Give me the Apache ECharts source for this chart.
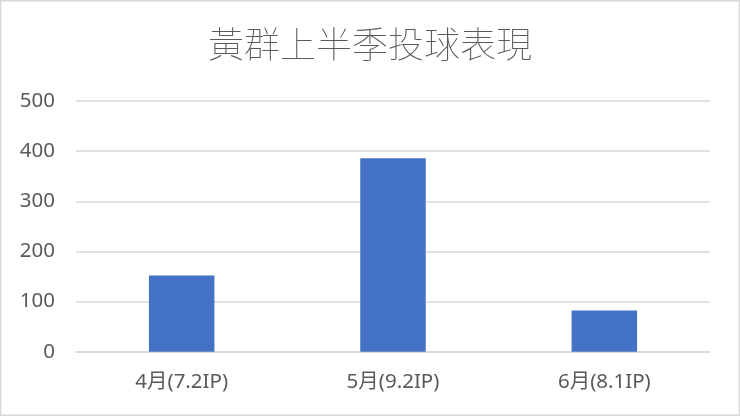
<!DOCTYPE html>
<html>
<head>
<meta charset="utf-8">
<script src="https://cdn.jsdelivr.net/npm/echarts@6/dist/echarts.min.js"></script>
<style>
html,body{margin:0;padding:0;background:#fff;}
#c{width:740px;height:416px;}
</style>
</head>
<body>
<div id="c"></div>
<script>
const titleText = '黃群上半季投球表現';
const categories = ['4月(7.2IP)', '5月(9.2IP)', '6月(8.1IP)'];
const values = [152, 386, 82];
const yTicks = { min: 0, max: 500, interval: 100 };

const chart = echarts.init(document.getElementById('c'));
const labelFam = '"Noto Sans", "Noto Sans CJK TC", sans-serif';
const titleFam = '"Noto Sans CJK TC", sans-serif';
chart.setOption({
  backgroundColor: '#ffffff',
  animation: false,
  title: {
    text: titleText,
    left: 'center',
    top: 21,
    textStyle: { fontSize: 36, fontWeight: 'lighter', color: '#595959', fontFamily: titleFam }
  },
  graphic: [{
    type: 'rect',
    shape: { x: 0.75, y: 0.75, width: 738.5, height: 414.5 },
    style: { fill: 'none', stroke: '#d9d9d9', lineWidth: 1.5 },
    silent: true
  }],
  grid: { left: 76, right: 30, top: 101, bottom: 64.3 },
  xAxis: {
    type: 'category',
    data: categories,
    axisLine: { show: true, lineStyle: { color: '#d9d9d9', width: 1.5 } },
    axisTick: { show: false },
    axisLabel: { color: '#595959', fontSize: 20.5, margin: 20, fontFamily: labelFam }
  },
  yAxis: {
    type: 'value',
    min: yTicks.min, max: yTicks.max, interval: yTicks.interval,
    axisLine: { show: false },
    axisTick: { show: false },
    splitLine: { lineStyle: { color: '#d9d9d9', width: 1.5 } },
    axisLabel: { color: '#595959', fontSize: 20.5, margin: 21, fontFamily: labelFam }
  },
  series: [{
    type: 'bar',
    data: values,
    barWidth: '31%',
    itemStyle: { color: '#4472C4' }
  }]
});
</script>
</body>
</html>
